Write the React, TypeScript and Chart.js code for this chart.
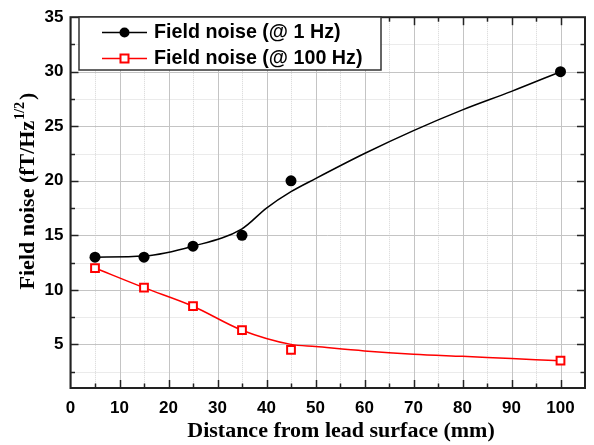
import React, { useEffect, useRef } from "react";
import { Chart, registerables } from "chart.js";

Chart.register(...registerables);

// ---- data ----
const distances = [5, 15, 25, 35, 45, 100];
const noise1Hz = [13, 13, 14, 15, 20, 30];
const noise100Hz = [12, 10.2, 8.5, 6.3, 4.5, 3.5];

// smooth fit lines
const fitX1Hz = [5, 15, 25, 35, 40, 45, 50, 60, 70, 80, 90, 100];
const fit1Hz = [13, 13.1, 14, 15.6, 17.5, 19.0, 20.2, 22.5, 24.6, 26.5, 28.2, 30];
const fitX100Hz = [5, 15, 25, 35, 45, 50, 60, 70, 80, 90, 100];
const fit100Hz = [12, 10.2, 8.5, 6.3, 5.0, 4.8, 4.4, 4.1, 3.9, 3.7, 3.5];

const xTickValues = [0, 10, 20, 30, 40, 50, 60, 70, 80, 90, 100];
const xMinorValues = [5, 15, 25, 35, 45, 55, 65, 75, 85, 95];
const yTickValues = [5, 10, 15, 20, 25, 30, 35];
const yMinorValues = [2.5, 7.5, 12.5, 17.5, 22.5, 27.5, 32.5];

const legendLabels = ["Field noise (@ 1 Hz)", "Field noise (@ 100 Hz)"];
const xTitle = "Distance from lead surface (mm)";
const yTitleMain = "Field noise (fT/Hz";
const yTitleSup = "1/2";
const yTitleEnd = ")";

const BLACK = "#000000";
const RED = "#ff0000";

const framePlugin = {
  id: "frame",
  beforeDatasetsDraw(chart: any) {
    const { ctx, chartArea: a, scales } = chart;
    const xs = scales.x, ys = scales.y;
    ctx.save();
    // minor dotted grid
    ctx.strokeStyle = "#d6d6d6";
    ctx.lineWidth = 1;
    ctx.setLineDash([1, 1]);
    xMinorValues.forEach((v) => {
      const px = Math.round(xs.getPixelForValue(v)) + 0.5;
      ctx.beginPath(); ctx.moveTo(px, a.top); ctx.lineTo(px, a.bottom); ctx.stroke();
    });
    yMinorValues.forEach((v) => {
      const py = Math.round(ys.getPixelForValue(v)) + 0.5;
      ctx.beginPath(); ctx.moveTo(a.left, py); ctx.lineTo(a.right, py); ctx.stroke();
    });
    // major solid grid
    ctx.setLineDash([]);
    ctx.strokeStyle = "#c4c4c4";
    xTickValues.forEach((v) => {
      const px = Math.round(xs.getPixelForValue(v)) + 0.5;
      ctx.beginPath(); ctx.moveTo(px, a.top); ctx.lineTo(px, a.bottom); ctx.stroke();
    });
    yTickValues.forEach((v) => {
      const py = Math.round(ys.getPixelForValue(v)) + 0.5;
      ctx.beginPath(); ctx.moveTo(a.left, py); ctx.lineTo(a.right, py); ctx.stroke();
    });
    ctx.restore();
  },
  afterDraw(chart: any) {
    const { ctx, chartArea: a, scales } = chart;
    const xs = scales.x, ys = scales.y;
    ctx.save();
    // axis frame
    ctx.strokeStyle = "#222222";
    ctx.lineWidth = 2;
    ctx.strokeRect(a.left, a.top, a.right - a.left, a.bottom - a.top);
    // ticks (inward on all sides)
    ctx.lineWidth = 1.5;
    const major = 8, minor = 4.5;
    const xt = (vals: number[], len: number) => vals.forEach((v) => {
      const px = Math.round(xs.getPixelForValue(v)) + 0.5;
      ctx.beginPath(); ctx.moveTo(px, a.bottom); ctx.lineTo(px, a.bottom - len); ctx.stroke();
      ctx.beginPath(); ctx.moveTo(px, a.top); ctx.lineTo(px, a.top + len); ctx.stroke();
    });
    const yt = (vals: number[], len: number) => vals.forEach((v) => {
      const py = Math.round(ys.getPixelForValue(v)) + 0.5;
      ctx.beginPath(); ctx.moveTo(a.left, py); ctx.lineTo(a.left + len, py); ctx.stroke();
      ctx.beginPath(); ctx.moveTo(a.right, py); ctx.lineTo(a.right - len, py); ctx.stroke();
    });
    xt(xTickValues.filter((v) => v > 0), major);
    xt(xMinorValues, minor);
    yt(yTickValues.filter((v) => v < 35), major);
    yt(yMinorValues, minor);

    // legend
    const lx0 = 79, ly0 = 17, lx1 = 381, ly1 = 70;
    ctx.fillStyle = "#ffffff";
    ctx.fillRect(lx0, ly0, lx1 - lx0, ly1 - ly0);
    ctx.strokeStyle = "#333333";
    ctx.lineWidth = 1.5;
    ctx.strokeRect(lx0, ly0, lx1 - lx0, ly1 - ly0);
    const rows = [32, 58];
    const colors = [BLACK, RED];
    rows.forEach((ry, i) => {
      ctx.strokeStyle = colors[i];
      ctx.lineWidth = 1.5;
      ctx.beginPath(); ctx.moveTo(102, ry + 0.5); ctx.lineTo(147, ry + 0.5); ctx.stroke();
      if (i === 0) {
        ctx.fillStyle = BLACK;
        ctx.beginPath(); ctx.arc(124.5, ry + 0.5, 5, 0, Math.PI * 2); ctx.fill();
      } else {
        ctx.fillStyle = "#ffffff";
        ctx.fillRect(120.5, ry - 3.5, 8, 8);
        ctx.strokeStyle = RED;
        ctx.lineWidth = 2;
        ctx.strokeRect(120.5, ry - 3.5, 8, 8);
      }
      ctx.fillStyle = "#000000";
      ctx.font = "bold 19.7px 'Liberation Sans', Arial, sans-serif";
      ctx.textAlign = "left";
      ctx.textBaseline = "middle";
      ctx.fillText(legendLabels[i], 154, ry + 1);
    });

    // x title
    ctx.fillStyle = "#000000";
    ctx.font = "bold 22px 'Liberation Serif', 'Times New Roman', serif";
    ctx.textAlign = "center";
    ctx.textBaseline = "alphabetic";
    ctx.fillText(xTitle, 341, 437);

    // y title (rotated, with superscript)
    const mainFont = "bold 22px 'Liberation Serif', 'Times New Roman', serif";
    const supFont = "bold 14px 'Liberation Serif', 'Times New Roman', serif";
    ctx.font = mainFont;
    const w1 = ctx.measureText(yTitleMain).width;
    const w3 = ctx.measureText(yTitleEnd).width;
    ctx.font = supFont;
    const w2 = ctx.measureText(yTitleSup).width;
    const total = w1 + w2 + w3 + 3;
    ctx.translate(34, 191 + total / 2);
    ctx.rotate(-Math.PI / 2);
    ctx.textAlign = "left";
    ctx.font = mainFont;
    ctx.fillText(yTitleMain, 0, 0);
    ctx.font = supFont;
    ctx.fillText(yTitleSup, w1 + 1, -10);
    ctx.font = mainFont;
    ctx.fillText(yTitleEnd, w1 + w2 + 3, 0);
    ctx.restore();
  },
};

export default function App() {
  const ref = useRef<HTMLCanvasElement | null>(null);
  useEffect(() => {
    document.body.style.margin = "0";
    const canvas = ref.current!;
    const tickFont = { family: "'Liberation Sans', Arial, sans-serif", size: 17, weight: "bold" as const };
    const chart = new Chart(canvas, {
      type: "scatter",
      data: {
        datasets: [
          {
            label: "fit 1 Hz",
            data: fitX1Hz.map((x, i) => ({ x, y: fit1Hz[i] })),
            showLine: true,
            borderColor: BLACK,
            borderWidth: 1.5,
            pointRadius: 0,
            cubicInterpolationMode: "monotone",
            order: 3,
          },
          {
            label: "fit 100 Hz",
            data: fitX100Hz.map((x, i) => ({ x, y: fit100Hz[i] })),
            showLine: true,
            borderColor: RED,
            borderWidth: 1.5,
            pointRadius: 0,
            cubicInterpolationMode: "monotone",
            order: 3,
          },
          {
            label: legendLabels[0],
            data: distances.map((x, i) => ({ x, y: noise1Hz[i] })),
            showLine: false,
            pointStyle: "circle",
            pointRadius: 5.5,
            backgroundColor: BLACK,
            borderColor: BLACK,
            borderWidth: 0,
            order: 1,
          },
          {
            label: legendLabels[1],
            data: distances.map((x, i) => ({ x, y: noise100Hz[i] })),
            showLine: false,
            pointStyle: "rect",
            pointRadius: 5.5,
            backgroundColor: "#ffffff",
            borderColor: RED,
            borderWidth: 2,
            order: 1,
          },
        ],
      },
      options: {
        animation: false,
        responsive: false,
        devicePixelRatio: 1,
        layout: { padding: { top: 14, right: 9, left: 0, bottom: 0 } },
        plugins: { legend: { display: false }, tooltip: { enabled: false } },
        scales: {
          x: {
            type: "linear",
            min: 0,
            max: 105,
            grid: { display: false, drawTicks: false },
            border: { display: false },
            afterBuildTicks: (s: any) => { s.ticks = xTickValues.map((v) => ({ value: v })); },
            afterFit: (s: any) => { s.height = 57; },
            ticks: { font: tickFont, color: "#000", padding: 10, maxRotation: 0, autoSkip: false },
          },
          y: {
            type: "linear",
            min: 1,
            max: 35,
            grid: { display: false, drawTicks: false },
            border: { display: false },
            afterBuildTicks: (s: any) => { s.ticks = yTickValues.map((v) => ({ value: v })); },
            afterFit: (s: any) => { s.width = 70.5; },
            ticks: { font: tickFont, color: "#000", padding: 7, autoSkip: false },
          },
        },
      },
      plugins: [framePlugin],
    } as any);
    return () => chart.destroy();
  }, []);
  return <canvas ref={ref} width={594} height={445} style={{ display: "block", width: 594, height: 445 }} />;
}
